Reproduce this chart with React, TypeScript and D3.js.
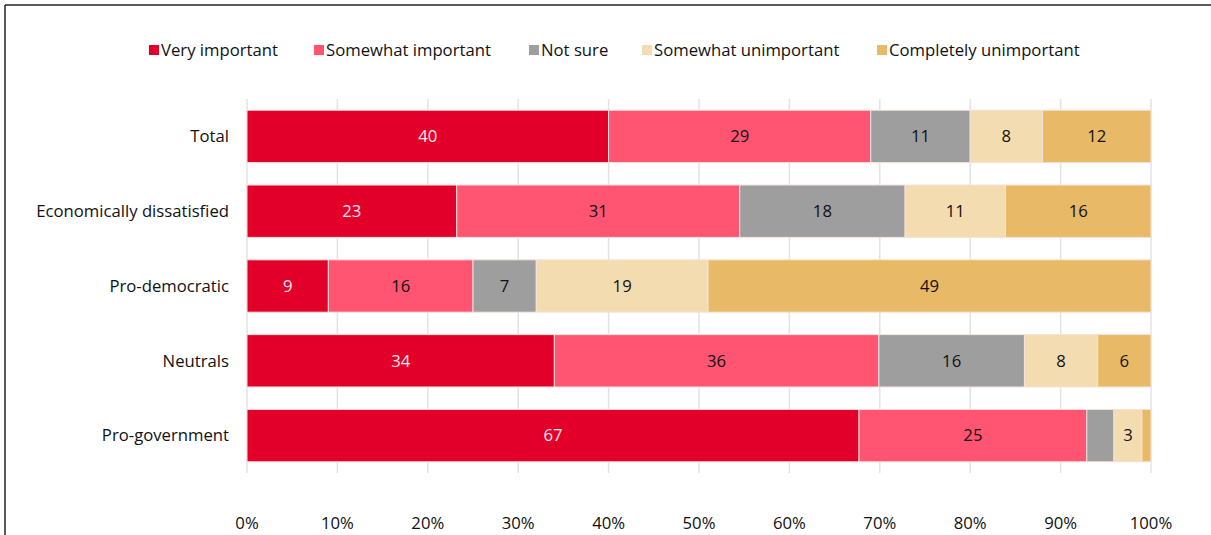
import React from "react";
import * as d3 from "d3";

const categories = ["Total", "Economically dissatisfied", "Pro-democratic", "Neutrals", "Pro-government"];
const seriesNames = ["Very important", "Somewhat important", "Not sure", "Somewhat unimportant", "Completely unimportant"];
const seriesColors = ["#E2002B", "#FF5472", "#9E9E9F", "#F3DCB0", "#E8B967"];
const labelColors = ["#FFE8E8", "#111", "#111", "#111", "#111"];

const veryImportant = [40, 23.2, 9, 34, 67.7];
const somewhatImportant = [29, 31.3, 16, 35.9, 25.2];
const notSure = [11, 18.3, 7, 16.1, 3];
const somewhatUnimportant = [8, 11.1, 19, 8.1, 3.1];
const completelyUnimportant = [12, 16.1, 49, 5.9, 1];

const veryImportantLabels = ["40", "23", "9", "34", "67"];
const somewhatImportantLabels = ["29", "31", "16", "36", "25"];
const notSureLabels = ["11", "18", "7", "16", ""];
const somewhatUnimportantLabels = ["8", "11", "19", "8", "3"];
const completelyUnimportantLabels = ["12", "16", "49", "6", ""];

const tickValues = [0, 10, 20, 30, 40, 50, 60, 70, 80, 90, 100];

const W = 1211;
const H = 535;
const FONT = "'Open Sans', sans-serif";
const FS = 16.7;

export default function App() {
  const series = [veryImportant, somewhatImportant, notSure, somewhatUnimportant, completelyUnimportant];
  const labels = [veryImportantLabels, somewhatImportantLabels, notSureLabels, somewhatUnimportantLabels, completelyUnimportantLabels];

  const x = d3.scaleLinear().domain([0, 100]).range([247, 1151]);
  const y = d3.scaleBand().domain(categories).range([99, 473]).paddingInner(0.3).paddingOuter(0.15);

  const rows = categories.map((c, i) => {
    let acc = 0;
    return series.map((s, k) => {
      const x0 = acc;
      acc += s[i];
      return { k, x0, x1: acc, label: labels[k][i] };
    });
  });

  const legendX = [149, 314, 529, 642, 877];

  return (
    <svg width={W} height={H} style={{ position: "absolute", left: 0, top: 0 }} fontFamily={FONT}>
      <rect x={0} y={0} width={W} height={H} fill="#fff" />
      <line x1={5} y1={5} x2={W} y2={5} stroke="#222" strokeWidth={1.5} />
      <line x1={5} y1={5} x2={5} y2={H} stroke="#222" strokeWidth={1.5} />
      {/* legend */}
      {seriesNames.map((n, k) => (
        <g key={n} transform={`translate(${legendX[k]},0)`}>
          <rect x={0} y={45} width={10} height={10} fill={seriesColors[k]} />
          <text x={12} y={50} dy="0.35em" fontSize={FS} fill="#111">{n}</text>
        </g>
      ))}
      {/* gridlines */}
      {tickValues.map((t) => (
        <line key={t} x1={x(t)} x2={x(t)} y1={99} y2={473} stroke="#e3e3e3" strokeWidth={1.5} />
      ))}
      {/* bars */}
      {rows.map((segs, i) => (
        <g key={categories[i]}>
          {segs.map((s) => (
            <rect key={s.k} x={x(s.x0)} y={y(categories[i])!} width={x(s.x1) - x(s.x0)} height={y.bandwidth()}
              fill={seriesColors[s.k]} stroke="#f6e2d8" strokeWidth={1} />
          ))}
          {segs.map((s) => s.label ? (
            <text key={"t" + s.k} x={(x(s.x0) + x(s.x1)) / 2} y={y(categories[i])! + y.bandwidth() / 2}
              dy="0.35em" textAnchor="middle" fontSize={FS} fill={labelColors[s.k]}>{s.label}</text>
          ) : null)}
          <text x={229} y={y(categories[i])! + y.bandwidth() / 2} dy="0.35em" textAnchor="end" fontSize={FS} fill="#111">{categories[i]}</text>
        </g>
      ))}
      {/* axis labels */}
      {tickValues.map((t) => (
        <text key={"a" + t} x={x(t)} y={523} dy="0.35em" textAnchor="middle" fontSize={FS} fill="#111">{t}%</text>
      ))}
    </svg>
  );
}
